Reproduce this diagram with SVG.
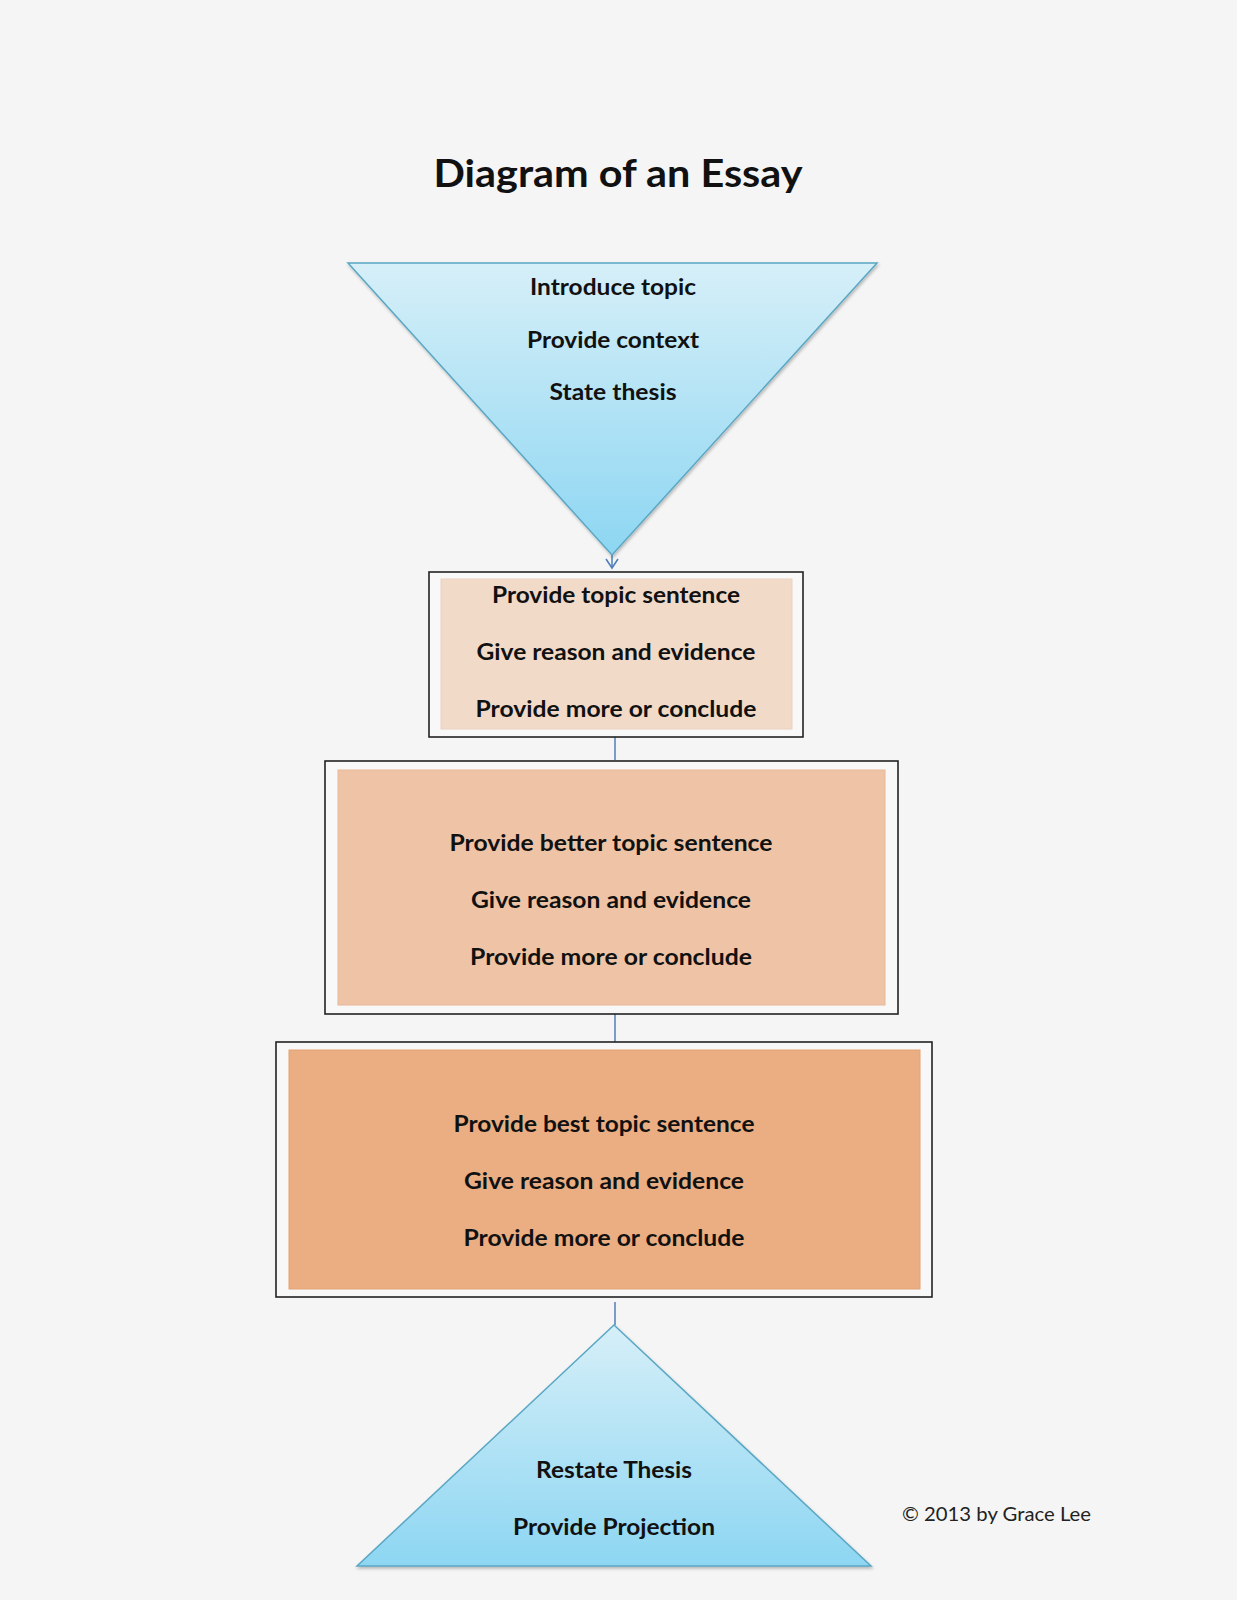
<svg xmlns="http://www.w3.org/2000/svg" width="1237" height="1600" viewBox="0 0 1237 1600">
<style>
.t{font-family:Lato,"Open Sans","Liberation Sans",sans-serif;font-weight:bold;font-size:23px;fill:#111;text-anchor:middle}
.title{font-family:Lato,"Open Sans","Liberation Sans",sans-serif;font-weight:bold;font-size:38px;fill:#111;text-anchor:middle}
.copy{font-family:Lato,"Open Sans","Liberation Sans",sans-serif;font-size:20px;fill:#222}
.outer{fill:#f8f8f8;stroke:#222;stroke-width:1.6}
.tri{fill:url(#blue);stroke:#5aa7c4;stroke-width:1.5;filter:url(#sh)}
.conn{stroke:#4f7fb8;stroke-width:1.5;fill:none}
</style>
<defs>
<linearGradient id="blue" x1="0" y1="0" x2="0" y2="1">
<stop offset="0" stop-color="#d6eff8"/>
<stop offset="1" stop-color="#8dd6f2"/>
</linearGradient>
<filter id="sh" x="-5%" y="-5%" width="110%" height="115%">
<feDropShadow dx="1" dy="2" stdDeviation="1.5" flood-color="#000" flood-opacity="0.25"/>
</filter>
<marker id="arr" markerWidth="12" markerHeight="14" refX="10" refY="7" orient="auto" markerUnits="userSpaceOnUse" viewBox="0 0 12 14">
<path d="M1,1 L10,7 L1,13" fill="none" stroke="#4f7fb8" stroke-width="1.6"/>
</marker>
</defs>
<rect x="0" y="0" width="1237" height="1600" fill="#f5f5f5"/>
<text class="title" x="618" y="187" textLength="369" lengthAdjust="spacingAndGlyphs">Diagram of an Essay</text>

<g id="connectors">
<line class="conn" x1="612" y1="552" x2="612" y2="568" marker-end="url(#arr)"/>
<line class="conn" x1="615" y1="737" x2="615" y2="760"/>
<line class="conn" x1="615" y1="1014" x2="615" y2="1042"/>
<line class="conn" x1="615" y1="1302" x2="615" y2="1325"/>
</g>

<g id="intro">
<polygon class="tri" points="348,263 877,263 612,555"/>
<text class="t" x="613" y="295" textLength="166" lengthAdjust="spacingAndGlyphs">Introduce topic</text>
<text class="t" x="613" y="348" textLength="172" lengthAdjust="spacingAndGlyphs">Provide context</text>
<text class="t" x="613" y="400" textLength="127" lengthAdjust="spacingAndGlyphs">State thesis</text>
</g>

<g id="body1">
<rect class="outer" x="429" y="572" width="374" height="165"/>
<rect x="441" y="579" width="351" height="150" fill="#f2dac9" stroke="#ead0bf" stroke-width="1"/>
<text class="t" x="616" y="603" textLength="248" lengthAdjust="spacingAndGlyphs">Provide topic sentence</text>
<text class="t" x="616" y="660" textLength="279" lengthAdjust="spacingAndGlyphs">Give reason and evidence</text>
<text class="t" x="616" y="717" textLength="281" lengthAdjust="spacingAndGlyphs">Provide more or conclude</text>
</g>

<g id="body2">
<rect class="outer" x="325" y="761" width="573" height="253"/>
<rect x="338" y="770" width="547" height="235" fill="#efc4a6" stroke="#e6b898" stroke-width="1"/>
<text class="t" x="611" y="851" textLength="323" lengthAdjust="spacingAndGlyphs">Provide better topic sentence</text>
<text class="t" x="611" y="908" textLength="280" lengthAdjust="spacingAndGlyphs">Give reason and evidence</text>
<text class="t" x="611" y="965" textLength="282" lengthAdjust="spacingAndGlyphs">Provide more or conclude</text>
</g>

<g id="body3">
<rect class="outer" x="276" y="1042" width="656" height="255"/>
<rect x="289" y="1050" width="631" height="239" fill="#ebae82" stroke="#e2a274" stroke-width="1"/>
<text class="t" x="604" y="1132" textLength="301" lengthAdjust="spacingAndGlyphs">Provide best topic sentence</text>
<text class="t" x="604" y="1189" textLength="280" lengthAdjust="spacingAndGlyphs">Give reason and evidence</text>
<text class="t" x="604" y="1246" textLength="281" lengthAdjust="spacingAndGlyphs">Provide more or conclude</text>
</g>

<g id="conclusion">
<polygon class="tri" points="614,1325 871,1566 357,1566"/>
<text class="t" x="614" y="1478" textLength="156" lengthAdjust="spacingAndGlyphs">Restate Thesis</text>
<text class="t" x="614" y="1535" textLength="202" lengthAdjust="spacingAndGlyphs">Provide Projection</text>
</g>

<text class="copy" x="902" y="1521" textLength="189" lengthAdjust="spacingAndGlyphs">© 2013 by Grace Lee</text>
</svg>
